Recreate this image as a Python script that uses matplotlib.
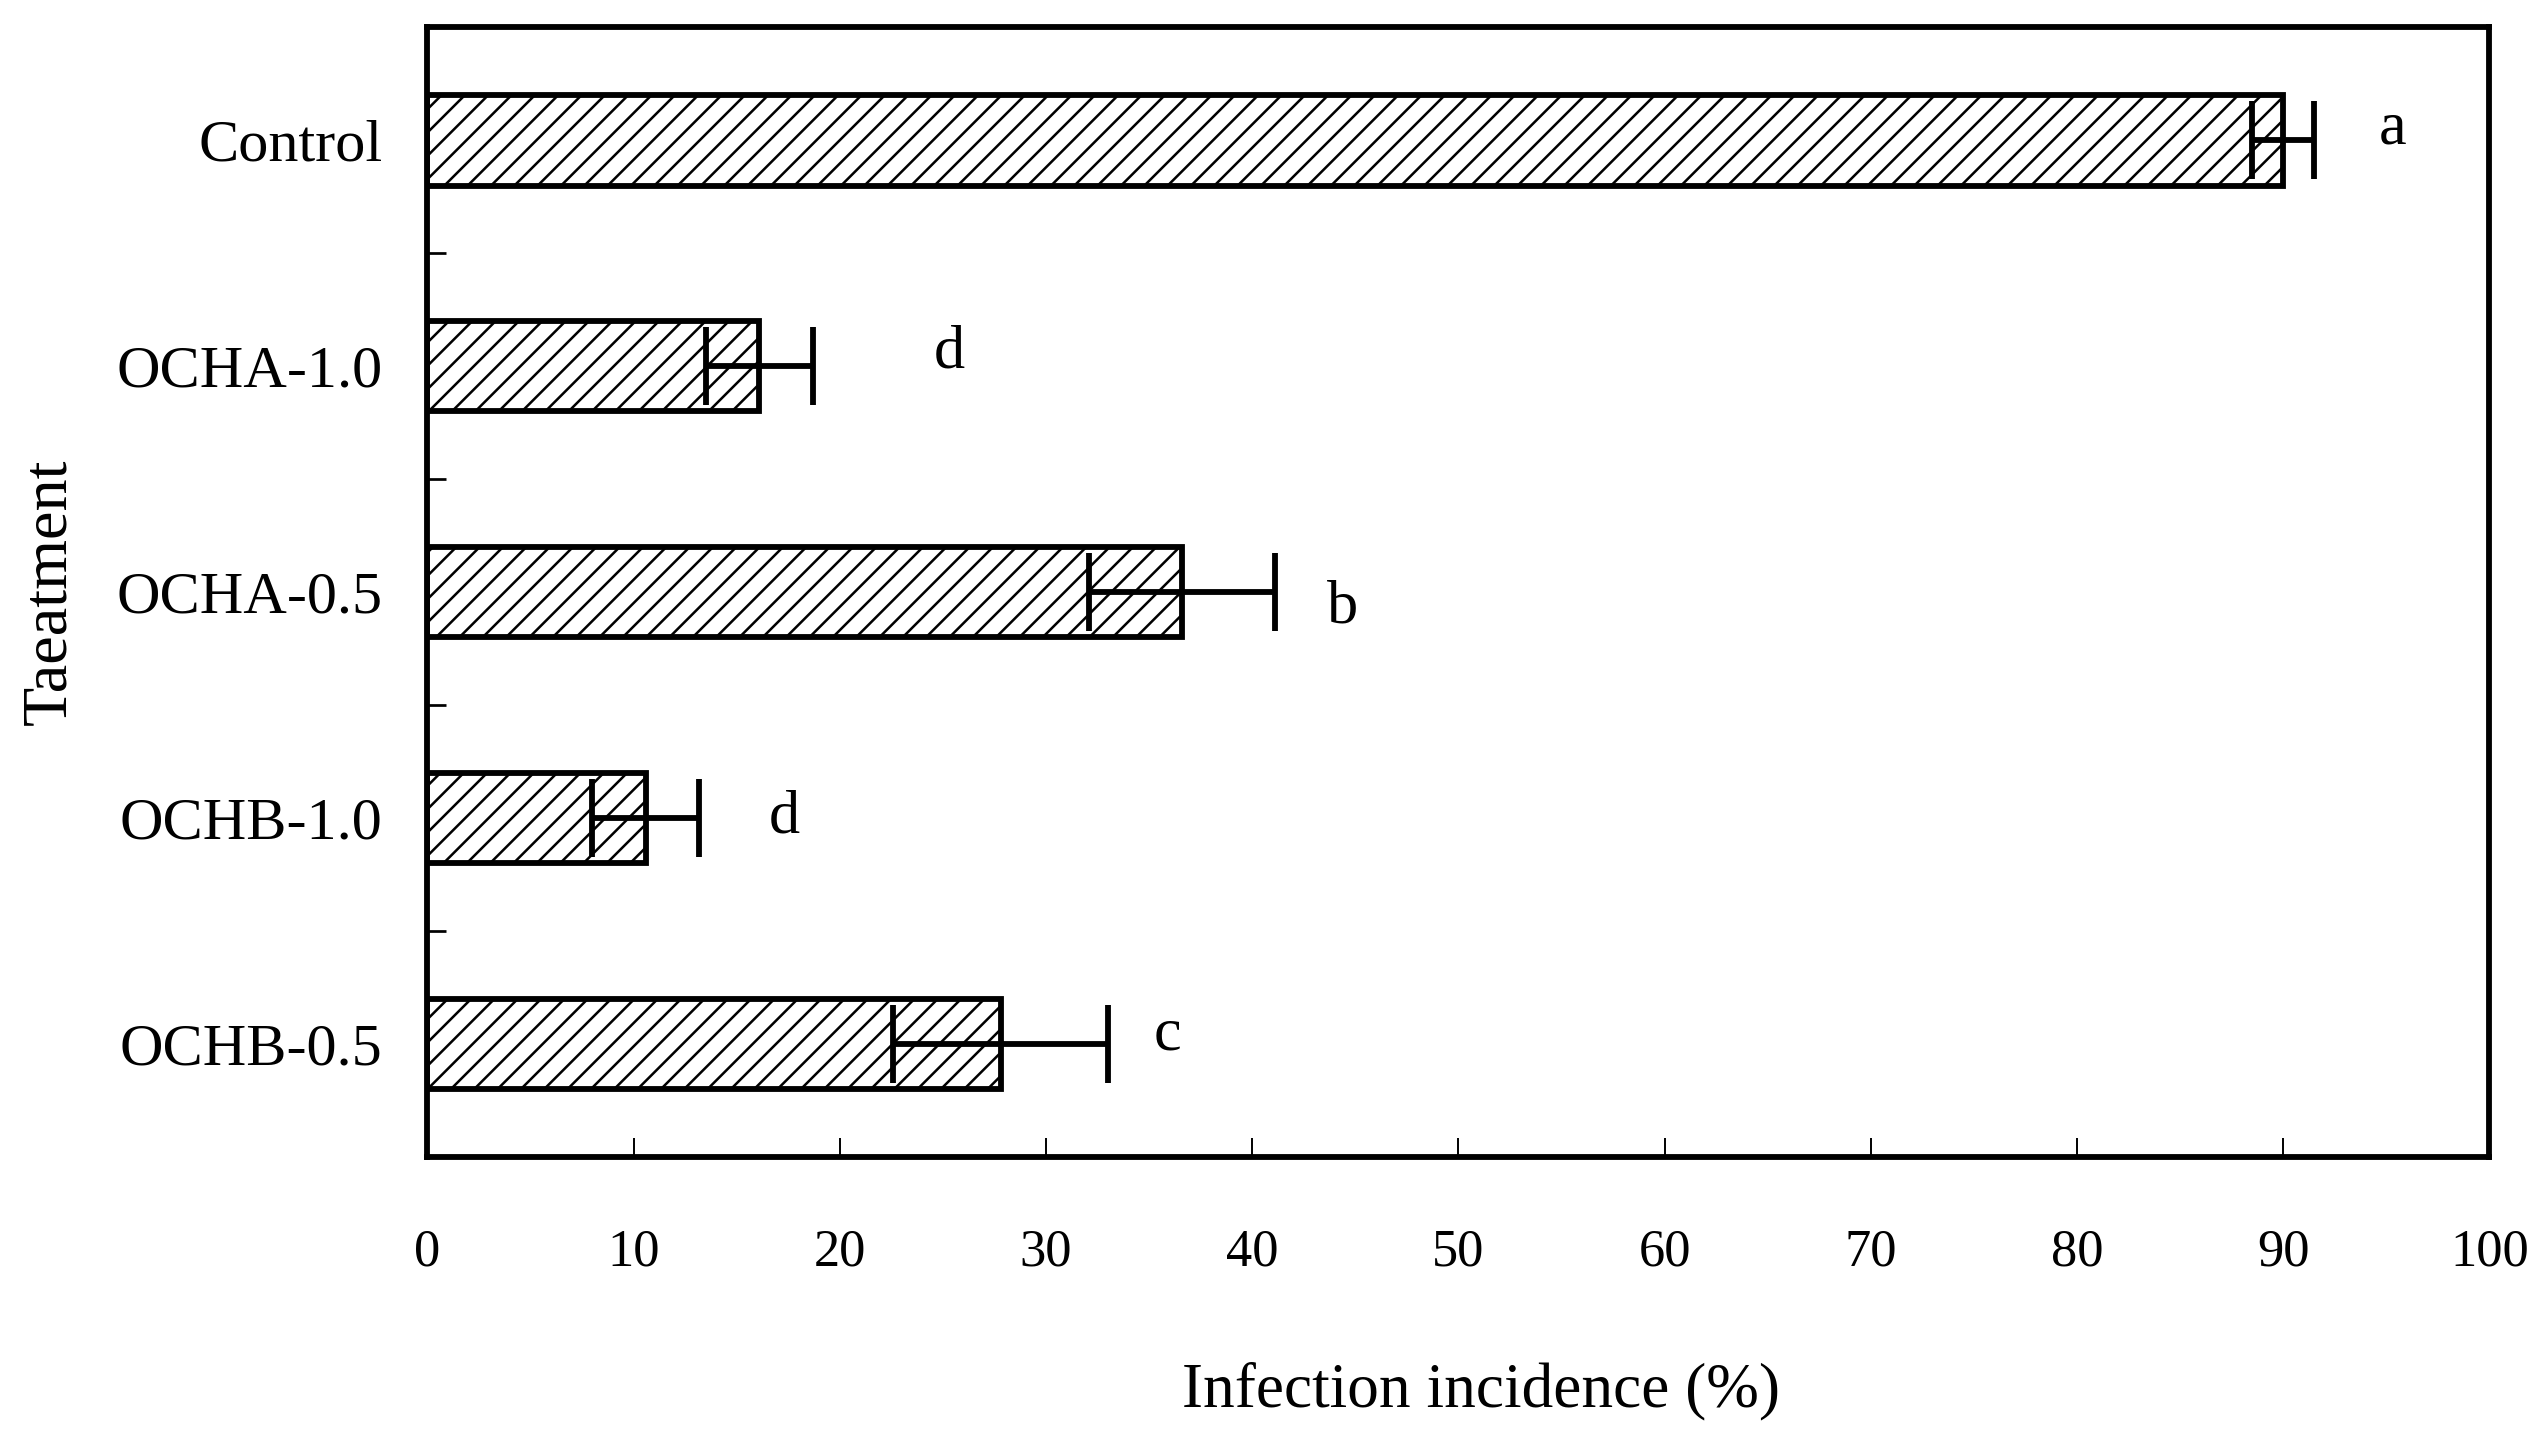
import matplotlib.pyplot as plt
import numpy as np

# datos
tratamientos = ["Control", "OCHA-1.0", "OCHA-0.5", "OCHB-1.0", "OCHB-0.5"]
incidencia = [90.0, 16.1, 36.6, 10.6, 27.8]
error = [1.5, 2.6, 4.5, 2.6, 5.2]
letras = ["a", "d", "b", "d", "c"]
letra_x = [95.3, 25.3, 44.4, 17.3, 35.9]
letra_dy = [-0.05, -0.06, 0.07, 0.0, -0.04]

plt.rcParams['font.family'] = ['Liberation Serif', 'DejaVu Serif']
plt.rcParams['hatch.linewidth'] = 1.3

fig = plt.figure(figsize=(2548 / 140, 1446 / 140), dpi=140)
ax = fig.add_axes([0.1677, 0.2, 0.977 - 0.1677, 0.981 - 0.2])

y = np.arange(len(tratamientos))
ax.barh(y, incidencia, height=0.4, color="white", edgecolor="black",
        hatch="//", linewidth=3.0, zorder=2)
ax.errorbar(incidencia, y, xerr=error, fmt="none", ecolor="black",
            elinewidth=3.0, capsize=20, capthick=3.0, zorder=3)

for i in range(len(tratamientos)):
    ax.text(letra_x[i], y[i] + letra_dy[i], letras[i], fontsize=32,
            ha="center", va="center")

ax.set_xlim(0, 100)
ax.set_ylim(len(tratamientos) - 0.5, -0.5)
ax.set_xticks(np.arange(0, 101, 10))
ax.set_yticks(y)
ax.set_yticklabels(tratamientos)
ax.set_yticks(np.arange(0.5, len(tratamientos) - 0.5, 1), minor=True)

ax.tick_params(axis="x", direction="in", length=10, width=1.0, pad=37,
               labelsize=27)
ax.tick_params(axis="y", which="major", length=0, pad=23, labelsize=31)
ax.tick_params(axis="y", which="minor", direction="in", length=10, width=1.4)

for s in ax.spines.values():
    s.set_linewidth(3.0)

ax.set_xlabel("Infection incidence (%)", fontsize=32.5, labelpad=44)
ax.xaxis.label.set_x(0.511)
ax.set_ylabel("Taeatment", fontsize=33, labelpad=19)

fig.savefig("out.png", dpi=140)
